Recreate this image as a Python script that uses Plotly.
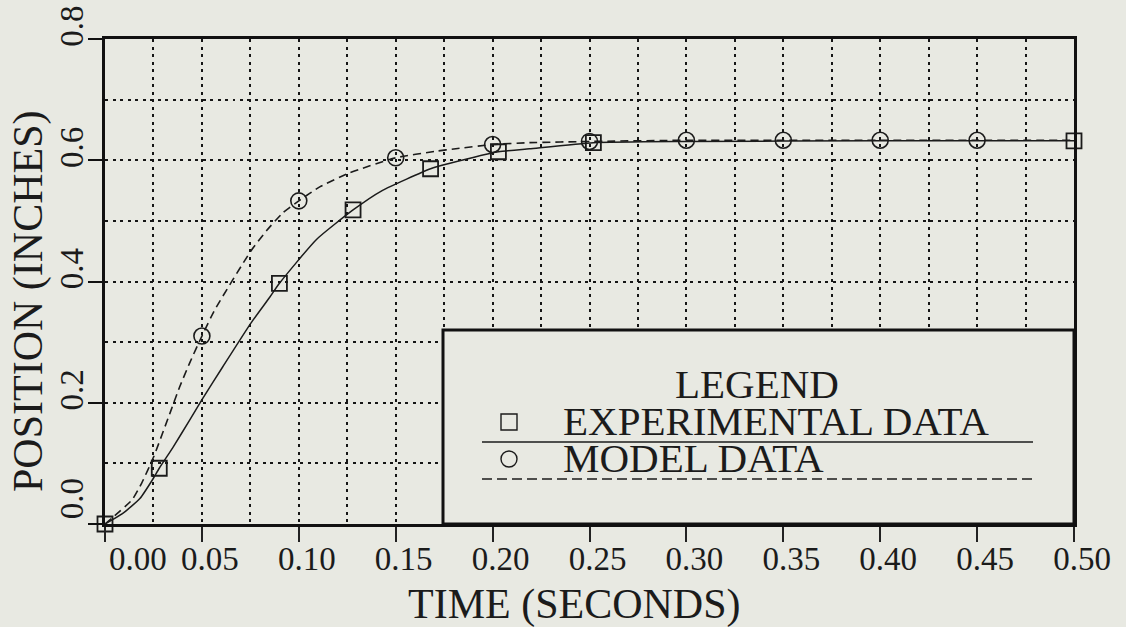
import plotly.graph_objects as go

# ---------------- data ----------------
# Experimental data markers (squares, solid curve)
exp_t = [0.0, 0.028, 0.090, 0.128, 0.168, 0.203, 0.252, 0.500]
exp_y = [0.0, 0.092, 0.397, 0.518, 0.586, 0.614, 0.629, 0.632]

# Model data markers (circles, dashed curve)
mod_t = [0.05, 0.10, 0.15, 0.20, 0.25, 0.30, 0.35, 0.40, 0.45]
mod_y = [0.310, 0.533, 0.604, 0.626, 0.631, 0.633, 0.633, 0.633, 0.633]

# Solid (experimental) curve
exp_curve_t = [0.0, 0.009, 0.018, 0.0245, 0.028, 0.035, 0.0436, 0.0498, 0.0607,
               0.0752, 0.085, 0.090, 0.109, 0.128, 0.143, 0.168, 0.178, 0.203,
               0.219, 0.252, 0.30, 0.40, 0.50]
exp_curve_y = [0.0, 0.017, 0.042, 0.073, 0.092, 0.126, 0.171, 0.204, 0.259,
               0.331, 0.374, 0.397, 0.469, 0.518, 0.550, 0.586, 0.595, 0.614,
               0.619, 0.629, 0.631, 0.632, 0.632]

# Dashed (model) curve
mod_curve_t = [0.0, 0.004, 0.014, 0.019, 0.025, 0.034, 0.0385, 0.0436, 0.05,
               0.0566, 0.0752, 0.0834, 0.0917, 0.10, 0.1108, 0.126, 0.15, 0.171,
               0.181, 0.20, 0.219, 0.25, 0.30, 0.35, 0.40, 0.45, 0.50]
mod_curve_y = [0.0, 0.011, 0.040, 0.068, 0.110, 0.187, 0.226, 0.265, 0.310,
               0.353, 0.450, 0.484, 0.513, 0.533, 0.556, 0.579, 0.604, 0.615,
               0.619, 0.626, 0.629, 0.631, 0.633, 0.633, 0.633, 0.633, 0.633]

x_tickvals = [0.00, 0.05, 0.10, 0.15, 0.20, 0.25, 0.30, 0.35, 0.40, 0.45, 0.50]
x_ticktext = ["\u00a0" * 6 + "0.00", "0.05", "0.10", "0.15", "0.20", "0.25",
              "0.30", "0.35", "0.40", "0.45", "0.50"]
y_tickvals = [0.0, 0.2, 0.4, 0.6, 0.8]
y_ticktext = ["\u00a0" * 3 + "0.0", "0.2", "0.4", "0.6", "0.8"]

x_title = "TIME (SECONDS)"
y_title = "POSITION (INCHES)"
legend_title = "LEGEND"
legend_names = ["EXPERIMENTAL DATA", "MODEL DATA"]

# ---------------- styling ----------------
W, H = 1126, 627
ML, MR, MT, MB = 105, 52, 39, 103
PW, PH = W - ML - MR, H - MT - MB
BG = "#e8e9e2"
INK = "#1b1b1b"
SERIF = "Liberation Serif"


def px_x(p):
    return (p - ML) / PW


def px_y(p):
    return (H - MB - p) / PH


fig = go.Figure()

fig.add_trace(go.Scatter(x=exp_curve_t, y=exp_curve_y, mode="lines",
                         line=dict(color=INK, width=1.5, shape="spline", smoothing=0.5),
                         showlegend=False, hoverinfo="skip"))
fig.add_trace(go.Scatter(x=mod_curve_t, y=mod_curve_y, mode="lines",
                         line=dict(color=INK, width=1.6, dash="8px,5px",
                                   shape="spline", smoothing=0.5),
                         showlegend=False, hoverinfo="skip"))
fig.add_trace(go.Scatter(x=exp_t, y=exp_y, mode="markers", cliponaxis=False,
                         name=legend_names[0],
                         marker=dict(symbol="square-open", size=15, color=INK,
                                     line=dict(width=1.8, color=INK)),
                         showlegend=False))
fig.add_trace(go.Scatter(x=mod_t, y=mod_y, mode="markers", cliponaxis=False,
                         name=legend_names[1],
                         marker=dict(symbol="circle-open", size=16, color=INK,
                                     line=dict(width=1.6, color=INK)),
                         showlegend=False))

grid = dict(showgrid=True, gridcolor="#151515", gridwidth=1.6, griddash="3px,4.5px")

fig.update_xaxes(range=[0, 0.5], tickmode="array", tickvals=x_tickvals, ticktext=x_ticktext,
                 automargin=False,
                 showline=True, linewidth=3, linecolor="#111", mirror=True,
                 ticks="outside", ticklen=15, tickwidth=1.5, tickcolor="#222",
                 zeroline=False, ticklabelshift=8, ticklabelstandoff=-12,
                 tickfont=dict(family=SERIF, size=33, color=INK),
                 minor=dict(tickmode="linear", tick0=0, dtick=0.025, ticks="", **grid),
                 **grid)
fig.update_yaxes(range=[0, 0.8], tickmode="array", tickvals=y_tickvals, ticktext=y_ticktext,
                 tickangle=-90, automargin=False,
                 showline=True, linewidth=3, linecolor="#111", mirror=True,
                 ticks="outside", ticklen=14, tickwidth=2, tickcolor="#111",
                 zeroline=False, ticklabelshift=-8, ticklabelstandoff=-8,
                 tickfont=dict(family=SERIF, size=33, color=INK),
                 minor=dict(tickmode="linear", tick0=0, dtick=0.1, ticks="", **grid),
                 **grid)

shapes = []
# legend box
shapes.append(dict(type="rect", xref="paper", yref="paper",
                   x0=px_x(443), x1=1.0, y0=0.0, y1=px_y(330),
                   fillcolor=BG, line=dict(color="#111", width=3), layer="above"))
# legend sample lines
shapes.append(dict(type="line", xref="paper", yref="paper",
                   x0=px_x(482), x1=px_x(1033), y0=px_y(442), y1=px_y(442),
                   line=dict(color=INK, width=1.6), layer="above"))
shapes.append(dict(type="line", xref="paper", yref="paper",
                   x0=px_x(482), x1=px_x(1033), y0=px_y(479), y1=px_y(479),
                   line=dict(color=INK, width=1.6, dash="10px,5px"), layer="above"))
# legend symbols
shapes.append(dict(type="rect", xref="paper", yref="paper",
                   x0=px_x(501), x1=px_x(517), y0=px_y(430), y1=px_y(414),
                   line=dict(color=INK, width=1.4), layer="above"))
shapes.append(dict(type="circle", xref="paper", yref="paper",
                   x0=px_x(501), x1=px_x(517), y0=px_y(467), y1=px_y(451),
                   line=dict(color=INK, width=1.4), layer="above"))

annotations = [
    dict(text=legend_title, xref="paper", yref="paper", x=px_x(757), y=px_y(384),
         xanchor="center", yanchor="middle", showarrow=False,
         font=dict(family=SERIF, size=41, color=INK)),
    dict(text=legend_names[0], xref="paper", yref="paper", x=px_x(561), y=px_y(421),
         xanchor="left", yanchor="middle", showarrow=False,
         font=dict(family=SERIF, size=41, color=INK)),
    dict(text=legend_names[1], xref="paper", yref="paper", x=px_x(561), y=px_y(458),
         xanchor="left", yanchor="middle", showarrow=False,
         font=dict(family=SERIF, size=41, color=INK)),
    dict(text=x_title, xref="paper", yref="paper", x=px_x(574), y=px_y(604),
         xanchor="center", yanchor="middle", showarrow=False,
         font=dict(family=SERIF, size=42, color=INK)),
    dict(text=y_title, xref="paper", yref="paper", x=px_x(28), y=px_y(301),
         xanchor="center", yanchor="middle", showarrow=False, textangle=-90,
         font=dict(family=SERIF, size=42, color=INK)),
]

fig.update_layout(width=W, height=H, margin=dict(l=ML, r=MR, t=MT, b=MB, autoexpand=False),
                  paper_bgcolor=BG, plot_bgcolor=BG, showlegend=False,
                  shapes=shapes, annotations=annotations)

fig.write_html("out.html", include_plotlyjs=True, config={"displayModeBar": False},
               post_script="document.body.style.margin='0px';"
                           "document.body.style.background='" + BG + "';")
